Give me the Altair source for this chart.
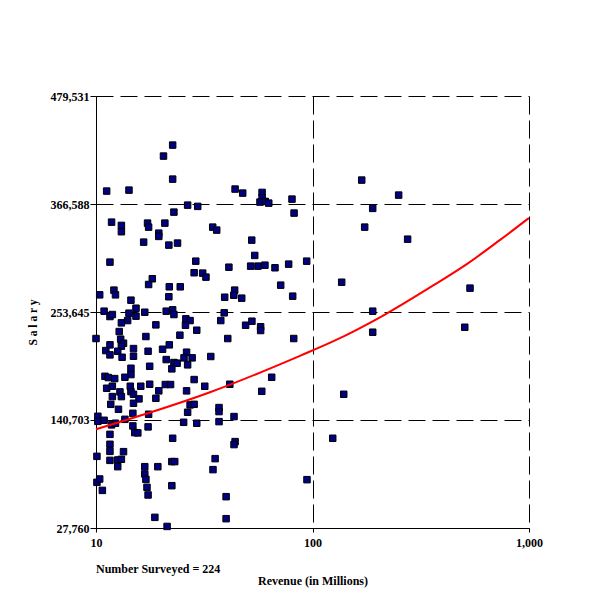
import altair as alt
import pandas as pd

# Revenue (in millions) of each surveyed company
revenue = [
    11.2, 14.2, 20.5, 22.6, 22.6, 22.9, 26.5, 29.5, 11.8, 13.1,
    13.1, 17.3, 17.5, 20.8, 19.5, 19.5, 16.6, 21.7, 23.8, 11.6,
    28.9, 43.9, 47.6, 58.5, 58.5, 57.2, 60.5, 62.8, 80.4, 82.2,
    34.6, 36.1, 52.4, 54.1, 60.3, 41.1, 51.8, 56.0, 67.1, 77.6,
    94.0, 31.1, 32.2, 71.3, 43.7, 39.3, 43.3, 47.1, 81.0, 39.1,
    37.7, 49.1, 52.5, 57.6, 57.6, 40.6, 81.9, 33.9, 64.8, 31.8,
    41.5, 58.3, 37.0, 37.0, 43.4, 37.0, 43.9, 43.4, 35.5, 34.7,
    94.3, 39.9, 39.9, 168.8, 250, 189.7, 174.2, 275, 136.4, 534,
    189.7, 189.7, 505, 139.4, 124.0, 28.4, 18.2, 17.5, 21.8, 24.5,
    10.4, 12.1, 12.3, 21.7, 14.5, 15.3, 10.9, 11.6, 11.9, 14.2,
    15.3, 16.8, 21.1, 22.6, 22.9, 13.1, 14.0, 18.9, 26.0, 27.2,
    25.9, 12.8, 29.2, 17.0, 10.0, 13.0, 11.6, 13.4, 13.1, 24.4,
    21.8, 20.3, 14.9, 14.9, 17.4, 11.1, 11.6, 12.6, 13.2, 26.2,
    25.5, 27.8, 21.1, 22.9, 23.7, 22.4, 26.5, 17.7, 14.5, 14.5,
    11.0, 11.4, 12.2, 13.6, 28.4, 11.2, 11.9, 12.9, 14.4, 16.1,
    17.7, 20.9, 22.1, 19.5, 14.5, 26.2, 11.9, 13.1, 14.9, 15.8,
    18.9, 11.7, 12.7, 14.9, 27.2, 28.4, 26.5, 10.2, 10.2, 10.9,
    11.8, 12.3, 13.6, 14.8, 17.5, 14.8, 15.1, 15.6, 17.4, 25.4,
    29.2, 11.6, 22.6, 11.6, 11.6, 13.4, 10.1, 11.6, 12.6, 13.1,
    12.6, 16.8, 16.8, 17.0, 17.2, 17.4, 19.3, 22.4, 23.1, 22.4,
    10.1, 10.4, 10.7, 18.7, 21.3,
]

# Salary (in thousands), same order
salary_thousands = [
    380.1, 381.1, 416.7, 428.2, 392.6, 358.1, 365.4, 364.1, 347.6, 344.2,
    337.6, 346.6, 342.4, 346.6, 336.1, 332.7, 326.7, 323.6, 325.7, 305.8,
    306.8, 382.2, 378.0, 378.7, 373.2, 368.6, 369.3, 367.5, 371.7, 357.1,
    342.4, 339.3, 328.8, 312.8, 302.6, 300.5, 301.6, 301.6, 299.9, 303.7,
    306.8, 294.3, 290.1, 281.7, 276.5, 269.1, 271.2, 268.1, 270.2, 252.8,
    244.7, 239.8, 244.0, 238.2, 234.3, 225.9, 225.9, 207.1, 185.4, 176.0,
    178.1, 170.7, 153.7, 149.5, 144.3, 139.0, 118.1, 115.0, 100.3, 88.8,
    78.3, 60.5, 37.5, 391.6, 375.9, 362.0, 342.4, 329.8, 284.8, 278.6,
    254.5, 232.5, 237.7, 167.6, 121.6, 294.7, 288.4, 282.4, 280.0, 280.0,
    271.6, 276.5, 271.6, 269.6, 266.0, 257.6, 254.5, 248.9, 251.0, 252.4,
    249.3, 253.4, 254.5, 255.9, 251.0, 242.3, 244.7, 240.2, 246.5, 244.7,
    239.8, 233.2, 234.6, 228.0, 225.9, 225.2, 219.3, 221.0, 217.9, 229.4,
    219.3, 214.7, 215.4, 207.4, 212.6, 213.3, 208.8, 212.6, 206.3, 211.6,
    205.7, 205.7, 203.9, 200.8, 200.1, 194.2, 198.4, 196.9, 194.8, 188.2,
    186.4, 185.1, 184.0, 185.4, 183.0, 173.9, 176.0, 170.1, 176.0, 176.0,
    178.1, 177.8, 177.8, 171.2, 170.4, 171.2, 165.2, 165.2, 167.6, 162.8,
    163.4, 157.1, 151.9, 158.2, 156.5, 157.1, 148.8, 144.6, 139.3, 140.4,
    135.6, 137.3, 141.4, 147.7, 146.7, 134.5, 127.5, 127.2, 133.5, 138.3,
    137.3, 125.7, 121.6, 115.3, 107.9, 107.6, 102.7, 98.5, 98.9, 99.6,
    91.9, 91.9, 84.3, 78.6, 70.3, 62.3, 91.9, 97.2, 97.2, 72.0,
    75.5, 79.0, 67.1, 38.9, 29.4,
]

# Trend line
trend_revenue = [10, 33.6, 87.5, 125, 216, 361, 516, 730, 1000]
trend_salary = [131000, 169700, 207800, 223100, 251000, 281400, 303700, 328500, 352000]

y_ticks = [27760, 140703, 253645, 366588, 479531]
x_ticks = [10, 100, 1000]
note_text = ["Number Surveyed = 224"]

pts = pd.DataFrame({"Revenue": revenue,
                    "Salary": [v * 1000 for v in salary_thousands]})
trend = pd.DataFrame({"Revenue": trend_revenue, "Salary": trend_salary})
note = pd.DataFrame({"note": note_text})

W, H = 433, 432
FONT = "Liberation Serif"
FS = 12

xs = alt.Scale(type="log", domain=[10, 1000], nice=False)
ys = alt.Scale(domain=[27760, 479531], nice=False, zero=False)

xaxis = alt.Axis(
    values=x_ticks, format=",", title="Revenue (in Millions)",
    grid=True, gridDash=[18, 6], gridColor="black", gridOpacity=1, gridWidth=1,
    domainColor="black", tickColor="black", tickSize=4,
    labelFont=FONT, labelFontWeight="bold", labelFontSize=FS, labelColor="black",
    labelPadding=5, labelFlush=False,
    titleFont=FONT, titleFontWeight="bold", titleFontSize=FS, titleColor="black",
    titleX=W / 2, titleY=52, titleBaseline="middle", titleAlign="center",
)
yaxis = alt.Axis(
    values=y_ticks, format=",d", title="S a l a r y",
    grid=True, gridDash=[17, 7], gridColor="black", gridOpacity=1, gridWidth=1,
    domainColor="black", tickColor="black", tickSize=6,
    labelFont=FONT, labelFontWeight="bold", labelFontSize=FS, labelColor="black",
    labelPadding=1, labelFlush=False,
    titleFont=FONT, titleFontWeight="bold", titleFontSize=11.5, titleColor="black",
    titleAngle=270, titleX=-63, titleY=226, titleBaseline="middle", titleAlign="center",
)

points = alt.Chart(pts).mark_square(
    size=42, filled=True, color="#000080", stroke="black", strokeWidth=1, opacity=1
).encode(
    x=alt.X("Revenue:Q", scale=xs, axis=xaxis),
    y=alt.Y("Salary:Q", scale=ys, axis=yaxis),
)

line = alt.Chart(trend).mark_line(
    color="red", strokeWidth=2, interpolate="monotone"
).encode(
    x=alt.X("Revenue:Q", scale=xs),
    y=alt.Y("Salary:Q", scale=ys),
)

label = alt.Chart(note).mark_text(
    align="left", baseline="middle", font=FONT, fontWeight="bold",
    fontSize=FS, color="black"
).encode(
    x=alt.value(0), y=alt.value(H + 40.5), text="note:N"
)

chart = alt.layer(points, line, label).properties(
    width=W, height=H,
    autosize=alt.AutoSizeParams(type="none"),
    padding={"left": 88, "top": 88, "right": 40, "bottom": 60},
    background="white",
).configure_view(stroke=None)

chart.save("out.html", embed_options={"renderer": "svg", "actions": False})
